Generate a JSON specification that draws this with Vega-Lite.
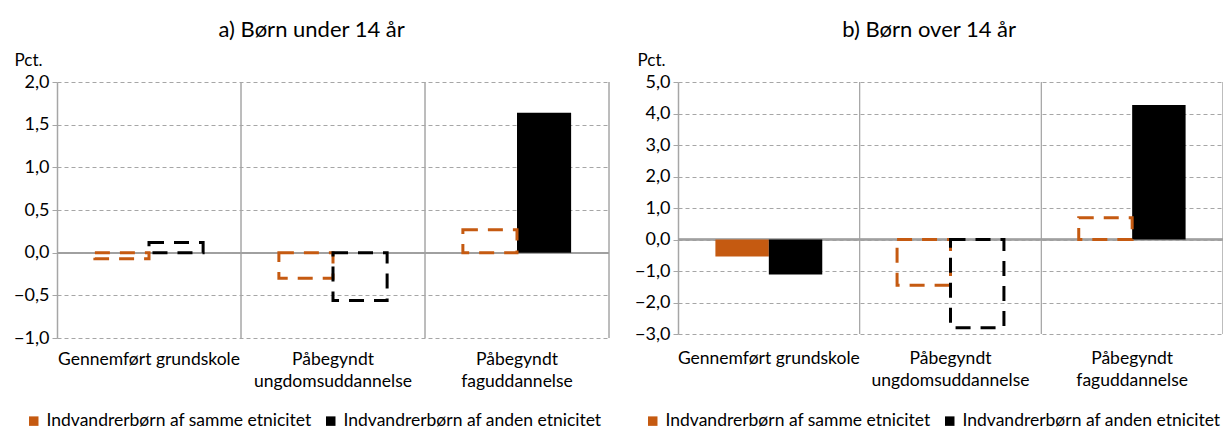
{
  "$schema": "https://vega.github.io/schema/vega-lite/v6.json",
  "padding": {"left": 13, "top": 19, "right": 0, "bottom": 0},
  "background": "white",
  "config": {
    "font": "Lato",
    "view": {"stroke": null},
    "axis": {"labelFont": "Lato", "titleFont": "Lato", "labelColor": "#000000", "titleColor": "#000000"},
    "legend": {"labelFont": "Lato", "labelColor": "#000000"},
    "title": {"font": "Lato", "color": "#000000"}
  },
  "datasets": {
    "bars": [
      {"panel": "a", "cat": "Gennemført grundskole", "series": "Indvandrerbørn af samme etnicitet", "value": -0.07, "sig": false},
      {"panel": "a", "cat": "Gennemført grundskole", "series": "Indvandrerbørn af anden etnicitet", "value": 0.12, "sig": false},
      {"panel": "a", "cat": "Påbegyndt ungdomsuddannelse", "series": "Indvandrerbørn af samme etnicitet", "value": -0.30, "sig": false},
      {"panel": "a", "cat": "Påbegyndt ungdomsuddannelse", "series": "Indvandrerbørn af anden etnicitet", "value": -0.56, "sig": false},
      {"panel": "a", "cat": "Påbegyndt faguddannelse", "series": "Indvandrerbørn af samme etnicitet", "value": 0.27, "sig": false},
      {"panel": "a", "cat": "Påbegyndt faguddannelse", "series": "Indvandrerbørn af anden etnicitet", "value": 1.64, "sig": true},
      {"panel": "b", "cat": "Gennemført grundskole", "series": "Indvandrerbørn af samme etnicitet", "value": -0.54, "sig": true},
      {"panel": "b", "cat": "Gennemført grundskole", "series": "Indvandrerbørn af anden etnicitet", "value": -1.11, "sig": true},
      {"panel": "b", "cat": "Påbegyndt ungdomsuddannelse", "series": "Indvandrerbørn af samme etnicitet", "value": -1.45, "sig": false},
      {"panel": "b", "cat": "Påbegyndt ungdomsuddannelse", "series": "Indvandrerbørn af anden etnicitet", "value": -2.80, "sig": false},
      {"panel": "b", "cat": "Påbegyndt faguddannelse", "series": "Indvandrerbørn af samme etnicitet", "value": 0.69, "sig": false},
      {"panel": "b", "cat": "Påbegyndt faguddannelse", "series": "Indvandrerbørn af anden etnicitet", "value": 4.27, "sig": true}
    ]
  },
  "spacing": 24,
  "resolve": {"scale": {"fill": "independent", "stroke": "independent", "y": "independent", "x": "independent", "xOffset": "independent"}, "legend": {"fill": "independent"}},
  "hconcat": [
    {
      "width": 552,
      "height": 256,
      "data": {"name": "bars"},
      "transform": [{"filter": "datum.panel == 'a'"}],
      "title": {"text": "a) Børn under 14 år", "fontSize": 22, "fontWeight": "normal", "anchor": "middle", "frame": "bounds", "offset": 9},
      "layer": [
        {
          "mark": {"type": "rule", "color": "#a6a6a6", "strokeWidth": 1},
          "encoding": {
            "x": {"field": "cat", "type": "nominal", "bandPosition": 1, "sort": ["Gennemført grundskole", "Påbegyndt ungdomsuddannelse", "Påbegyndt faguddannelse"],
                  "scale": {"paddingInner": 0, "paddingOuter": 0},
                  "axis": {"title": null, "domain": false, "ticks": false, "grid": false, "labelAngle": 0, "labelFontSize": 17.5, "labelPadding": 12, "labelLineHeight": 22, "labelLimit": 300,
                           "labelExpr": "datum.value == 'Gennemført grundskole' ? datum.value : split(datum.value, ' ')"}}
          }
        },
        {
          "mark": {"type": "rule", "color": "#a0a0a0", "strokeWidth": 1.5},
          "encoding": {
            "y": {"datum": 0, "type": "quantitative",
                  "scale": {"domain": [-1, 2], "nice": false, "zero": false},
                  "axis": {"values": [-1, -0.5, 0, 0.5, 1, 1.5, 2], "tickCount": 10, "labelExpr": "replace(format(datum.value, '.1f'), '.', ',')", "labelOverlap": false,
                           "grid": true, "gridDash": [4, 3], "gridColor": "#a6a6a6", "gridWidth": 1,
                           "domainColor": "#a6a6a6", "domainWidth": 1.5, "tickColor": "#a6a6a6", "tickSize": 5, "labelPadding": 3, "labelFontSize": 18,
                           "title": "Pct.", "titleAngle": 0, "titleX": -43, "titleY": -17, "titleAlign": "left", "titleBaseline": "alphabetic", "titleFontWeight": "normal", "titleFontSize": 17}}
          }
        },
        {
          "transform": [{"filter": "datum.sig"}],
          "mark": {"type": "bar"},
          "encoding": {
            "x": {"field": "cat", "type": "nominal", "sort": ["Gennemført grundskole", "Påbegyndt ungdomsuddannelse", "Påbegyndt faguddannelse"]},
            "xOffset": {"field": "series", "type": "nominal", "sort": ["Indvandrerbørn af samme etnicitet", "Indvandrerbørn af anden etnicitet"],
                        "scale": {"domain": ["Indvandrerbørn af samme etnicitet", "Indvandrerbørn af anden etnicitet"], "paddingInner": 0, "paddingOuter": 0.7}},
            "y": {"field": "value", "type": "quantitative"},
            "fill": {"field": "series", "type": "nominal",
                     "scale": {"domain": ["Indvandrerbørn af samme etnicitet", "Indvandrerbørn af anden etnicitet"], "range": ["#C55A11", "#000000"]},
                     "legend": {"title": null, "orient": "none", "legendX": -32, "legendY": 330, "direction": "horizontal", "symbolType": "square", "symbolSize": 90, "labelFontSize": 17.5, "labelLimit": 400, "columnPadding": 10, "labelOffset": 4, "symbolStrokeWidth": 0}}
          }
        },
        {
          "transform": [{"filter": "!datum.sig"}],
          "mark": {"type": "bar", "filled": false, "strokeWidth": 3, "strokeDash": [15, 10]},
          "encoding": {
            "x": {"field": "cat", "type": "nominal", "sort": ["Gennemført grundskole", "Påbegyndt ungdomsuddannelse", "Påbegyndt faguddannelse"]},
            "xOffset": {"field": "series", "type": "nominal"},
            "y": {"field": "value", "type": "quantitative"},
            "stroke": {"field": "series", "type": "nominal",
                       "scale": {"domain": ["Indvandrerbørn af samme etnicitet", "Indvandrerbørn af anden etnicitet"], "range": ["#C55A11", "#000000"]},
                       "legend": null}
          }
        }
      ]
    },
    {
      "width": 545,
      "height": 252,
      "data": {"name": "bars"},
      "transform": [{"filter": "datum.panel == 'b'"}],
      "title": {"text": "b) Børn over 14 år", "fontSize": 22, "fontWeight": "normal", "anchor": "middle", "frame": "bounds", "offset": 9},
      "layer": [
        {
          "mark": {"type": "rule", "color": "#a6a6a6", "strokeWidth": 1},
          "encoding": {
            "x": {"field": "cat", "type": "nominal", "bandPosition": 1, "sort": ["Gennemført grundskole", "Påbegyndt ungdomsuddannelse", "Påbegyndt faguddannelse"],
                  "scale": {"paddingInner": 0, "paddingOuter": 0},
                  "axis": {"title": null, "domain": false, "ticks": false, "grid": false, "labelAngle": 0, "labelFontSize": 17.5, "labelPadding": 15, "labelLineHeight": 22, "labelLimit": 300,
                           "labelExpr": "datum.value == 'Gennemført grundskole' ? datum.value : split(datum.value, ' ')"}}
          }
        },
        {
          "mark": {"type": "rule", "color": "#a0a0a0", "strokeWidth": 1.5},
          "encoding": {
            "y": {"datum": 0, "type": "quantitative",
                  "scale": {"domain": [-3, 5], "nice": false, "zero": false},
                  "axis": {"values": [-3, -2, -1, 0, 1, 2, 3, 4, 5], "tickCount": 12, "labelExpr": "replace(format(datum.value, '.1f'), '.', ',')", "labelOverlap": false,
                           "grid": true, "gridDash": [4, 3], "gridColor": "#a6a6a6", "gridWidth": 1,
                           "domainColor": "#a6a6a6", "domainWidth": 1.5, "tickColor": "#a6a6a6", "tickSize": 5, "labelPadding": 3, "labelFontSize": 18,
                           "title": "Pct.", "titleAngle": 0, "titleX": -41, "titleY": -17, "titleAlign": "left", "titleBaseline": "alphabetic", "titleFontWeight": "normal", "titleFontSize": 17}}
          }
        },
        {
          "transform": [{"filter": "datum.sig"}],
          "mark": {"type": "bar"},
          "encoding": {
            "x": {"field": "cat", "type": "nominal", "sort": ["Gennemført grundskole", "Påbegyndt ungdomsuddannelse", "Påbegyndt faguddannelse"]},
            "xOffset": {"field": "series", "type": "nominal", "sort": ["Indvandrerbørn af samme etnicitet", "Indvandrerbørn af anden etnicitet"],
                        "scale": {"domain": ["Indvandrerbørn af samme etnicitet", "Indvandrerbørn af anden etnicitet"], "paddingInner": 0, "paddingOuter": 0.7}},
            "y": {"field": "value", "type": "quantitative"},
            "fill": {"field": "series", "type": "nominal",
                     "scale": {"domain": ["Indvandrerbørn af samme etnicitet", "Indvandrerbørn af anden etnicitet"], "range": ["#C55A11", "#000000"]},
                     "legend": {"title": null, "orient": "none", "legendX": -34, "legendY": 330, "direction": "horizontal", "symbolType": "square", "symbolSize": 90, "labelFontSize": 17.5, "labelLimit": 400, "columnPadding": 10, "labelOffset": 4, "symbolStrokeWidth": 0}}
          }
        },
        {
          "transform": [{"filter": "!datum.sig"}],
          "mark": {"type": "bar", "filled": false, "strokeWidth": 3, "strokeDash": [15, 10]},
          "encoding": {
            "x": {"field": "cat", "type": "nominal", "sort": ["Gennemført grundskole", "Påbegyndt ungdomsuddannelse", "Påbegyndt faguddannelse"]},
            "xOffset": {"field": "series", "type": "nominal"},
            "y": {"field": "value", "type": "quantitative"},
            "stroke": {"field": "series", "type": "nominal",
                       "scale": {"domain": ["Indvandrerbørn af samme etnicitet", "Indvandrerbørn af anden etnicitet"], "range": ["#C55A11", "#000000"]},
                       "legend": null}
          }
        }
      ]
    }
  ]
}
